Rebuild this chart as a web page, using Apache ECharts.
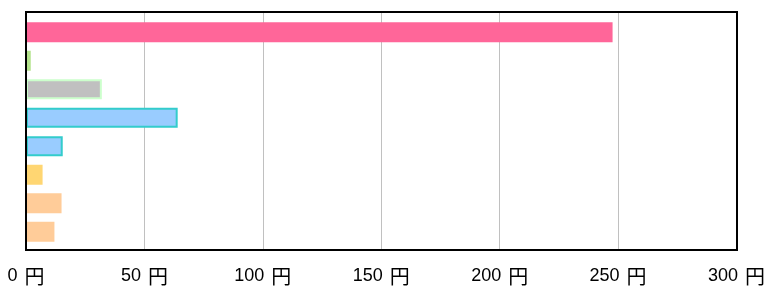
<!DOCTYPE html>
<html>
<head>
<meta charset="utf-8">
<script src="https://cdn.jsdelivr.net/npm/echarts@6/dist/echarts.min.js"></script>
<style>
html, body { margin: 0; padding: 0; background: #fff; }
#chart { width: 768px; height: 286px; }
</style>
</head>
<body>
<div id="chart"></div>
<script>
// categories (no labels shown in the picture), top to bottom
var categories = ['1', '2', '3', '4', '5', '6', '7', '8'];
var values = [247.5, 2, 32, 64, 15.5, 7, 15, 12];
var fillColors = ['#ff6699', '#b4e38c', '#c0c0c0', '#99ccff', '#99ccff', '#ffd672', '#ffcc99', '#ffcc99'];
var borderColors = [null, null, '#ccffcc', '#33cccc', '#33cccc', null, null, null];
var xTicks = [0, 50, 100, 150, 200, 250, 300];

var chart = echarts.init(document.getElementById('chart'));

var barData = values.map(function (v, i) {
  var item = { value: v, itemStyle: { color: fillColors[i] } };
  if (borderColors[i]) {
    item.itemStyle.borderColor = borderColors[i];
    item.itemStyle.borderWidth = 2;
  }
  return item;
});

chart.setOption({
  animation: false,
  grid: [
    // value axis + gridlines
    { left: 26, right: 31, top: 12, bottom: 36 },
    // bars
    { left: 26, right: 31, top: 18, height: 228 },
    // frame on top
    { left: 26, right: 31, top: 12, bottom: 36, show: true, borderColor: '#000', borderWidth: 2, backgroundColor: 'transparent', z: 10 }
  ],
  xAxis: [
    {
      gridIndex: 0, type: 'value', min: 0, max: 300, interval: 50,
      axisLine: { show: false }, axisTick: { show: false },
      splitLine: { show: true, showMinLine: false, showMaxLine: false, lineStyle: { color: '#c0c0c0', width: 1 } },
      axisLabel: {
        color: '#000', margin: 16,
        formatter: function (v) { return xTicks.indexOf(v) >= 0 ? '{n|' + v + '}{y|円}' : ''; },
        rich: {
          n: { fontSize: 18, fontFamily: '"Liberation Sans"', color: '#000', padding: [0, 7, 0, 0] },
          y: { fontSize: 20, fontFamily: '"Noto Sans CJK JP"', color: '#000' }
        }
      }
    },
    { gridIndex: 1, type: 'value', min: 0, max: 300, show: false },
    { gridIndex: 2, type: 'value', min: 0, max: 300, show: false }
  ],
  yAxis: [
    { gridIndex: 0, type: 'value', show: false, min: 0, max: 1 },
    {
      gridIndex: 1, type: 'category', data: categories, inverse: true,
      axisLine: { show: false }, axisTick: { show: false }, axisLabel: { show: false }
    },
    { gridIndex: 2, type: 'value', show: false, min: 0, max: 1 }
  ],
  series: [
    {
      type: 'bar', xAxisIndex: 1, yAxisIndex: 1,
      data: barData, barWidth: 20
    }
  ]
});
</script>
</body>
</html>
